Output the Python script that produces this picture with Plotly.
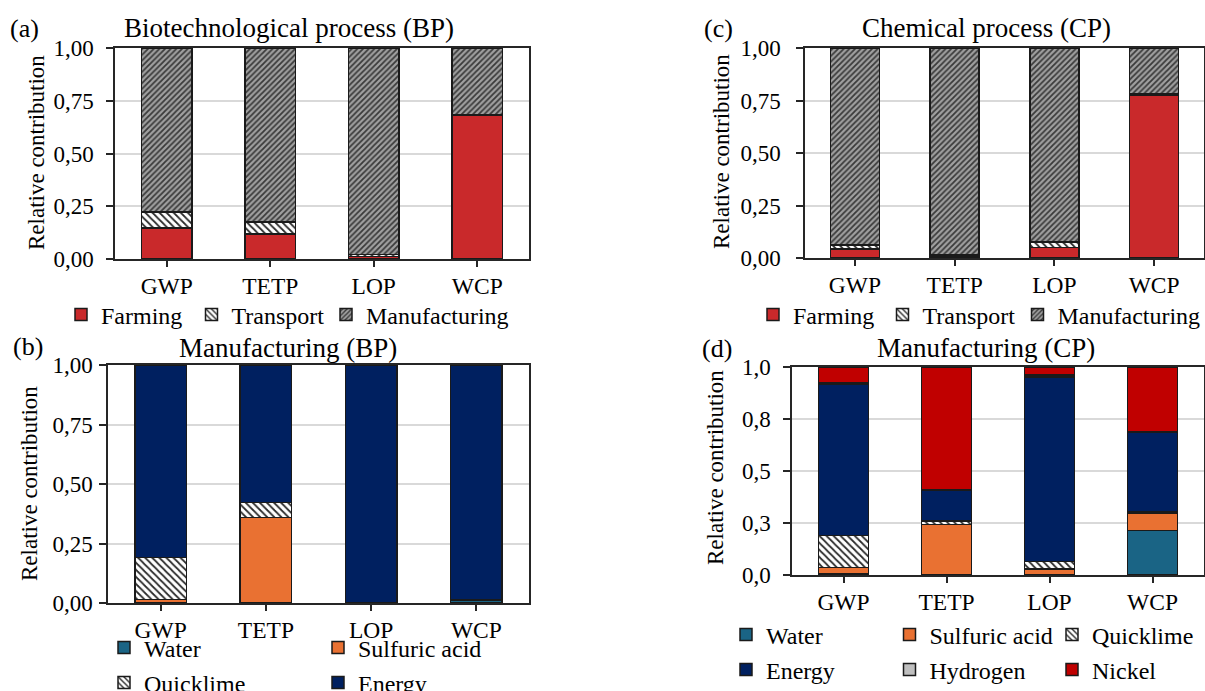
import plotly.graph_objects as go

W, H = 1205, 691
FONT = "Liberation Serif"

categories = ["GWP", "TETP", "LOP", "WCP"]

# (a) Biotechnological process (BP)
bp_farming = [0.148, 0.118, 0.012, 0.679]
bp_transport = [0.075, 0.057, 0.010, 0.003]
bp_manufacturing = [0.777, 0.825, 0.978, 0.318]

# (c) Chemical process (CP)
cp_farming = [0.042, 0.006, 0.050, 0.776]
cp_transport = [0.020, 0.008, 0.027, 0.005]
cp_manufacturing = [0.938, 0.986, 0.923, 0.219]

# (b) Manufacturing (BP)
bpm_water = [0.003, 0.000, 0.002, 0.010]
bpm_sulfuric = [0.011, 0.359, 0.000, 0.000]
bpm_quicklime = [0.178, 0.063, 0.000, 0.004]
bpm_energy = [0.808, 0.578, 0.998, 0.986]

# (d) Manufacturing (CP)
cpm_water = [0.008, 0.000, 0.002, 0.215]
cpm_sulfuric = [0.027, 0.243, 0.028, 0.083]
cpm_quicklime = [0.155, 0.017, 0.034, 0.004]
cpm_energy = [0.728, 0.148, 0.889, 0.384]
cpm_hydrogen = [0.004, 0.002, 0.009, 0.002]
cpm_nickel = [0.078, 0.590, 0.038, 0.312]

ticks4 = [0, 0.25, 0.5, 0.75, 1.0]
ticktext_2dec = ["0,00", "0,25", "0,50", "0,75", "1,00"]
ticktext_1dec = ["0,0", "0,3", "0,5", "0,8", "1,0"]

C_FARM = "#C9292B"
C_NICKEL = "#C00000"
C_ENERGY = "#002060"
C_SULF = "#E97132"
C_WATER = "#1A6485"
C_H2 = "#BFBFBF"
OUTLINE = dict(color="#1a1a1a", width=1.5)


def solid(c):
    return dict(color=c, line=OUTLINE)


HATCH = dict(color="white", line=OUTLINE,
             pattern=dict(shape="\\", fgcolor="#2a2a2a", bgcolor="white",
                          size=5, solidity=0.35, fillmode="replace"))
MANUF = dict(color="#9a9a9a", line=OUTLINE,
             pattern=dict(shape="/", fgcolor="#3a3a3a", bgcolor="#a0a0a0",
                          size=4, solidity=0.45, fillmode="replace"))

fig = go.Figure()
legend_specs = {}
_counter = [0]


def px_x(p):
    return p / W


def px_y(p):
    return 1 - p / H


def add(name, vals, marker, ax, marker_left, text_left, row_y):
    _counter[0] += 1
    key = "legend" if _counter[0] == 1 else "legend%d" % _counter[0]
    x_leg = (marker_left + text_left) / 2.0 - 30
    legend_specs[key] = dict(
        orientation="h", x=px_x(x_leg), y=px_y(row_y),
        xanchor="left", yanchor="middle", bgcolor="rgba(0,0,0,0)",
        borderwidth=0, itemwidth=30,
        font=dict(family=FONT, size=24, color="black"),
        itemclick=False, itemdoubleclick=False)
    fig.add_trace(go.Bar(x=categories, y=vals, name=name, marker=marker,
                         width=0.49, xaxis="x" + ax, yaxis="y" + ax,
                         legend=key, showlegend=True))


# panel a -> axis 1 ('' suffix), c -> 2, b -> 3, d -> 4
add("Farming", bp_farming, solid(C_FARM), "", 82, 100, 315)
add("Transport", bp_transport, HATCH, "", 213, 230, 315)
add("Manufacturing", bp_manufacturing, MANUF, "", 347, 365, 315)

add("Farming", cp_farming, solid(C_FARM), "2", 775, 791, 315)
add("Transport", cp_transport, HATCH, "2", 903, 922, 315)
add("Manufacturing", cp_manufacturing, MANUF, "2", 1038, 1057, 315)

add("Water", bpm_water, solid(C_WATER), "3", 125, 143, 648)
add("Sulfuric acid", bpm_sulfuric, solid(C_SULF), "3", 339, 357, 648)
add("Quicklime", bpm_quicklime, HATCH, "3", 125, 143, 683)
add("Energy", bpm_energy, solid(C_ENERGY), "3", 339, 357, 683)

add("Water", cpm_water, solid(C_WATER), "4", 747, 765, 635)
add("Sulfuric acid", cpm_sulfuric, solid(C_SULF), "4", 911, 928, 635)
add("Quicklime", cpm_quicklime, HATCH, "4", 1073, 1091, 635)
add("Energy", cpm_energy, solid(C_ENERGY), "4", 747, 765, 670)
add("Hydrogen", cpm_hydrogen, solid(C_H2), "4", 911, 928, 670)
add("Nickel", cpm_nickel, solid(C_NICKEL), "4", 1073, 1091, 670)


def xaxis(x0, x1, anchor):
    return dict(domain=[px_x(x0), px_x(x1)], anchor=anchor, type="category",
                range=[-0.5, 3.5], showline=True, linecolor="#262626", linewidth=1.5,
                mirror=True, ticks="outside", ticklen=6, tickcolor="#262626",
                tickwidth=1.5, ticklabelstandoff=-1,
                tickfont=dict(family=FONT, size=23.5, color="black"),
                showgrid=False, zeroline=False, fixedrange=True)


def yaxis(y_top, y_bot, anchor, ticktext, standoff):
    return dict(domain=[px_y(y_bot), px_y(y_top)], anchor=anchor, range=[0, 1],
                tickvals=ticks4, ticktext=ticktext, showline=True,
                linecolor="#262626", linewidth=1.5, mirror=True, ticks="outside",
                ticklen=7, tickcolor="#262626", tickwidth=1.5,
                ticklabelstandoff=standoff,
                tickfont=dict(family=FONT, size=23, color="black"),
                showgrid=True, gridcolor="#D9D9D9", gridwidth=1.5,
                zeroline=False, fixedrange=True)


annotations = []


def text(x, y, s, size, angle=0):
    annotations.append(dict(x=px_x(x), y=px_y(y), xref="paper", yref="paper",
                            text=s, showarrow=False, textangle=angle,
                            xanchor="center", yanchor="middle",
                            font=dict(family=FONT, size=size, color="black")))


text(289, 28, "Biotechnological process (BP)", 27)
text(986, 28, "Chemical process (CP)", 27)
text(288, 348, "Manufacturing (BP)", 27)
text(986, 348, "Manufacturing (CP)", 27)
text(24, 28, "(a)", 26)
text(718, 28, "(c)", 26)
text(28, 347, "(b)", 26)
text(717, 348, "(d)", 26)
text(36, 153, "Relative contribution", 23, -90)
text(722, 152, "Relative contribution", 23, -90)
text(29, 484, "Relative contribution", 23, -90)
text(715, 468, "Relative contribution", 23, -90)

fig.update_layout(
    width=W, height=H, autosize=False,
    margin=dict(l=0, r=0, t=0, b=0, pad=0, autoexpand=False),
    paper_bgcolor="white", plot_bgcolor="white",
    barmode="stack", bargap=0.5,
    xaxis=xaxis(115, 529, "y"),
    yaxis=yaxis(48, 259, "x", ticktext_2dec, 8),
    xaxis2=xaxis(805, 1204, "y2"),
    yaxis2=yaxis(48, 258, "x2", ticktext_2dec, 11),
    xaxis3=xaxis(108, 529, "y3"),
    yaxis3=yaxis(365, 603, "x3", ticktext_2dec, 2),
    xaxis4=xaxis(792, 1204, "y4"),
    yaxis4=yaxis(367, 575, "x4", ticktext_1dec, 8),
    annotations=annotations,
    showlegend=True,
)
fig.update_layout(**legend_specs)

post = """
var gd = document.getElementById('{plot_id}');
var box = 'margin:0;padding:0;width:1205px;height:691px;overflow:hidden;';
document.documentElement.style.cssText = box;
document.body.style.cssText = box + 'position:relative;';
var p = gd.parentNode;
p.style.cssText = box + 'position:absolute;left:0;top:0;line-height:0;';
gd.style.position = 'absolute'; gd.style.left = '0px'; gd.style.top = '0px';
window.scrollTo(0, 0);
"""

fig.write_html("out.html", post_script=post, config={"displayModeBar": False})
